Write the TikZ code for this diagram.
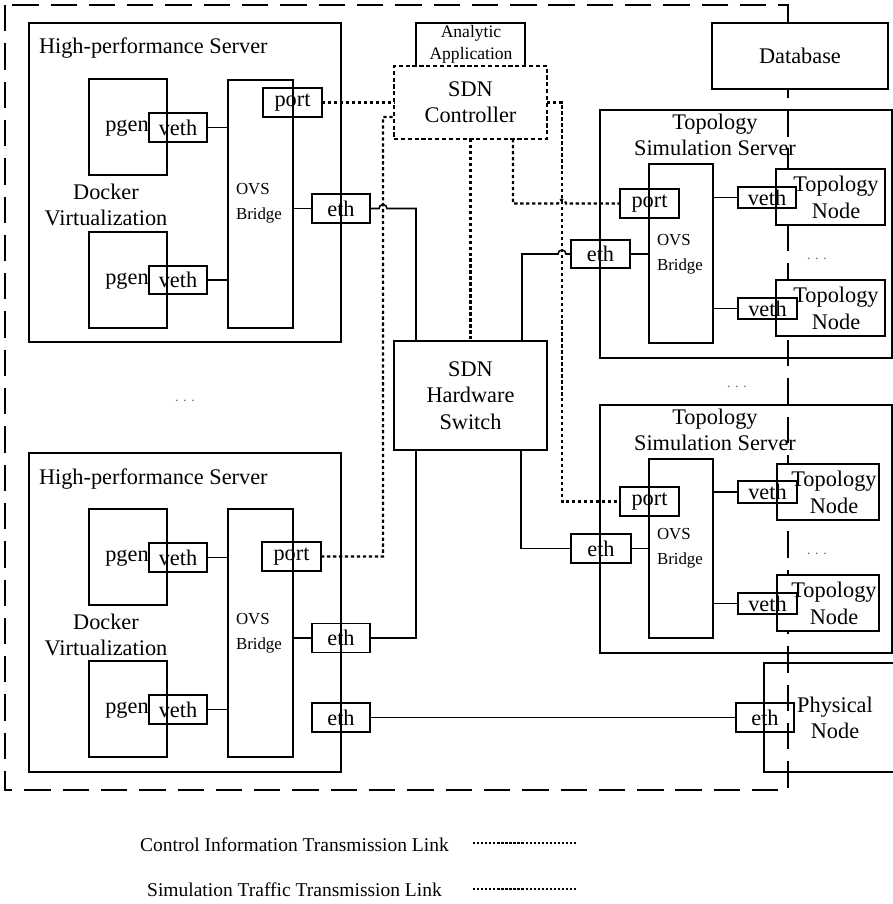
\documentclass[tikz,border=0pt]{standalone}
\usepackage{fontspec}
\setmainfont{Liberation Serif}
\usetikzlibrary{calc}
\begin{document}
\begin{tikzpicture}[x=0.02cm,y=-0.02cm,
  every node/.style={inner sep=0pt, outer sep=0pt},
  bx/.style 2 args={draw, line width=0.9pt, minimum width=#1*0.02cm, minimum height=#2*0.02cm},
  sz/.style 2 args={minimum width=#1*0.02cm, minimum height=#2*0.02cm},
  txt/.style={font=\fontsize{12.7}{15}\selectfont, align=center},
  ovstxt/.style={font=\fontsize{9.6}{14}\selectfont, align=left, anchor=west},
  smalltxt/.style={font=\fontsize{10}{12.5}\selectfont, align=center},
  legtxt/.style={font=\fontsize{11.1}{13}\selectfont},
  dots/.style={font=\fontsize{8}{9}\selectfont, text=black!60},
  wire/.style={line width=0.9pt},
  ctl/.style={line width=1.2pt, dash pattern=on 1.9pt off 1.5pt},
  ctlbox/.style={line width=1.1pt, dash pattern=on 2.4pt off 1.5pt},
  outer/.style={line width=0.85pt, dash pattern=on 15pt off 6.8pt},
  legdot/.style={line width=0.7pt, dash pattern=on 1.3pt off 1.0pt},
  whitefill/.style={fill=white}
]
\useasboundingbox (0,0) rectangle (893,904);

% outer dashed boundary
\draw[outer] (5,5) rectangle (788,790);

% ---------------- High-performance Server 1 ----------------
\node[bx={312}{319}] (hp1) at (185,182.5) {};
\node[txt, anchor=west] (hp1t) at (39,48) {High-performance Server};
\node[bx={78}{96}] (pg1a) at (128,127) {};
\node[bx={78}{96}] (pg1b) at (128,280) {};
\node[txt] (pg1at) at (127,128) {pgen};
\node[txt] (pg1bt) at (127,281) {pgen};
\node[bx={58}{29}, txt] (ve1a) at (178,127.5) {veth};
\node[bx={58}{28}, txt] (ve1b) at (178,280) {veth};
\node[txt] (dk1) at (106,205) {Docker\\Virtualization};
\node[bx={65}{248}] (ovs1) at (260.5,204) {};
\node[ovstxt] (ovs1t) at (236,203.5) {OVS\\Bridge};
\node[bx={59}{29}, txt] (po1) at (292.5,102.5) {port};
\node[bx={58}{29}, txt] (et1) at (341,208.5) {eth};
\draw[wire] (ve1a.east) -- (ve1a.east -| ovs1.west);
\draw[wire] (ve1b.east) -- (ve1b.east -| ovs1.west);
\draw[wire] (et1.west -| ovs1.east) -- (et1.west);

% ---------------- High-performance Server 2 ----------------
\node[bx={312}{319}] (hp2) at (185,612.5) {};
\node[txt, anchor=west] (hp2t) at (39,479) {High-performance Server};
\node[bx={78}{96}] (pg2a) at (128,557) {};
\node[bx={78}{96}] (pg2b) at (128,709) {};
\node[txt] (pg2at) at (127,558) {pgen};
\node[txt] (pg2bt) at (127,710) {pgen};
\node[bx={58}{29}, txt] (ve2a) at (178,557.5) {veth};
\node[bx={58}{29}, txt] (ve2b) at (178,709.5) {veth};
\node[txt] (dk2) at (106,635) {Docker\\Virtualization};
\node[bx={65}{248}] (ovs2) at (260.5,633) {};
\node[ovstxt] (ovs2t) at (236,633.5) {OVS\\Bridge};
\node[bx={59}{29}, txt] (po2) at (291.5,556.5) {port};
\node[bx={58}{29}, txt] (et2a) at (341,638) {eth};
\node[bx={58}{29}, txt] (et2b) at (341,717.5) {eth};
\draw[wire] (ve2a.east) -- (ve2a.east -| ovs2.west);
\draw[wire] (ve2b.east) -- (ve2b.east -| ovs2.west);
\draw[wire] (et2a.west -| ovs2.east) -- (et2a.west);

\node[dots] (dl) at (185,401) {.\,\,.\,\,.};

% ---------------- Analytic / Controller / Switch ----------------
\node[sz={109}{43}] (ana) at (470.5,44.5) {};
\draw[wire] (ana.south west) -- (ana.north west) -- (ana.north east) -- (ana.south east);
\node[smalltxt] (anat) at (471,44) {Analytic\\Application};
\node[sz={153}{73}, draw, ctlbox, txt] (ctrl) at (470.5,102.5) {SDN\\Controller};
\node[bx={153}{109}, txt] (sw) at (470.5,395.5) {SDN\\Hardware\\Switch};

% ---------------- Database ----------------
\node[bx={176}{66}, whitefill, txt] (db) at (800,56) {Database};

% ---------------- Topology Simulation Server 1 ----------------
\node[bx={292}{248}] (ts1) at (746,234) {};
\node[txt] (ts1t) at (715,135) {Topology\\Simulation Server};
\node[bx={64}{179}] (ovr1) at (681,253.5) {};
\node[ovstxt] (ovr1t) at (657,254) {OVS\\Bridge};
\node[bx={59}{29}, txt] (pr1) at (649.5,203.5) {port};
\node[bx={59}{28}, txt] (er1) at (600.5,254) {eth};
\node[bx={109}{56}, whitefill] (tn1a) at (830.5,197) {};
\node[bx={109}{56}, whitefill] (tn1b) at (830.5,308) {};
\node[txt] (tn1at) at (836,197.5) {Topology\\Node};
\node[txt] (tn1bt) at (836,308.5) {Topology\\Node};
\node[bx={58}{21}, txt] (vr1a) at (767,197.5) {veth};
\node[bx={59}{21}, txt] (vr1b) at (767.5,308.5) {veth};
\node[dots] (dr1) at (817,259) {.\,\,.\,\,.};
\draw[wire] (er1.east) -- (er1.east -| ovr1.west);
\draw[wire] (vr1a.west -| ovr1.east) -- (vr1a.west);
\draw[wire] (vr1b.west -| ovr1.east) -- (vr1b.west);

\node[dots] (dm) at (737,387) {.\,\,.\,\,.};

% ---------------- Topology Simulation Server 2 ----------------
\node[bx={292}{248}] (ts2) at (746,529) {};
\node[txt] (ts2t) at (715,430) {Topology\\Simulation Server};
\node[bx={64}{179}] (ovr2) at (681,548.5) {};
\node[ovstxt] (ovr2t) at (657,548.5) {OVS\\Bridge};
\node[bx={59}{29}, txt] (pr2) at (649.5,501.5) {port};
\node[bx={60}{29}, txt] (er2) at (601,548.5) {eth};
\node[bx={102}{56}, whitefill] (tn2a) at (828,492) {};
\node[bx={102}{56}, whitefill] (tn2b) at (828,603) {};
\node[txt] (tn2at) at (834,492.5) {Topology\\Node};
\node[txt] (tn2bt) at (834,603.5) {Topology\\Node};
\node[bx={59}{22}, txt] (vr2a) at (767.5,492) {veth};
\node[bx={59}{21}, txt] (vr2b) at (767.5,603.5) {veth};
\node[dots] (dr2) at (817,554) {.\,\,.\,\,.};
\draw[wire] (er2.east) -- (er2.east -| ovr2.west);
\draw[wire] (vr2a.west -| ovr2.east) -- (vr2a.west);
\draw[wire] (vr2b.west -| ovr2.east) -- (vr2b.west);

% ---------------- Physical Node ----------------
\node[sz={129}{109}] (phys) at (828.5,717.5) {};
\draw[wire] (phys.north east) -- (phys.north west) -- (phys.south west) -- (phys.south east);
\node[txt] (physt) at (835,718) {Physical\\Node};
\node[bx={58}{29}, txt] (ep) at (765,717.5) {eth};

% ---------------- Control links (dotted) ----------------
\draw[ctl] (po1.east) -- (ctrl.west);
\draw[ctl] (po2.east) -| (383,117) -- ($(ctrl.west)+(0,14.5)$);
\draw[ctl] (ctrl.east) -- (562,102.5) |- (pr2.west);
\draw[ctl] (ctrl.south) -- (sw.north);
\draw[ctl] ($(ctrl.south west)+(119,0)$) |- (558,203.5)
   arc[start angle=180, end angle=0, radius=0.08cm] -- (pr1.west);

% ---------------- Simulation links (solid) ----------------
\draw[wire] (et1.east) -- (379,208.5)
   arc[start angle=180, end angle=0, radius=0.08cm] -| ($(sw.north west)+(22,0)$);
\draw[wire] ($(sw.north west)+(128,0)$) |- (558,254)
   arc[start angle=180, end angle=0, radius=0.08cm] -- (er1.west);
\draw[wire] ($(sw.south west)+(127,0)$) |- (er2.west);
\draw[wire] (et2a.east) -| ($(sw.south west)+(22,0)$);
\draw[wire] (et2b.east) -- (ep.west);

% ---------------- Legend ----------------
\node[legtxt] (lg1) at (294.5,845) {Control Information Transmission Link};
\node[legtxt] (lg2) at (294.5,890) {Simulation Traffic Transmission Link};
\coordinate (l1a) at (473,843);
\coordinate (l1b) at (577,843);
\coordinate (l2a) at (473,889);
\coordinate (l2b) at (577,889);
\draw[legdot] (l1a) -- (l1b);
\draw[legdot] (l2a) -- (l2b);
\end{tikzpicture}
\end{document}
